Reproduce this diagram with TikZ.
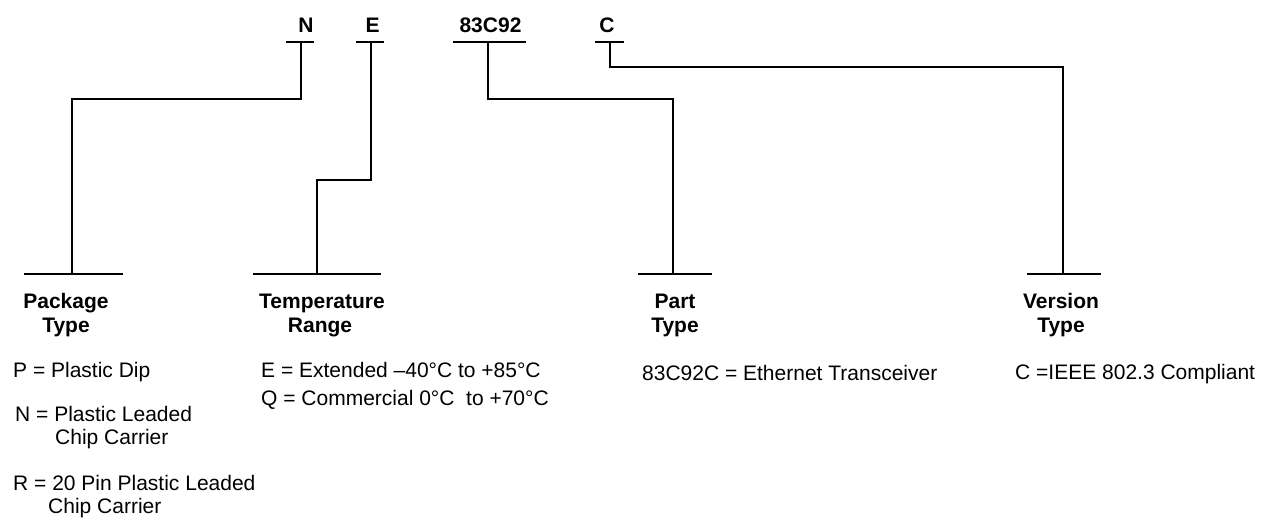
\documentclass[tikz,border=0pt]{standalone}
\usepackage{fontspec}
\setmainfont{Liberation Sans}
\begin{document}
\begin{tikzpicture}[x=1pt,y=-1pt,
  code/.style={font=\fontsize{21}{24}\selectfont\bfseries, anchor=base, inner sep=0pt},
  head/.style={font=\fontsize{21}{24}\selectfont\bfseries, anchor=base, inner sep=0pt},
  desc/.style={font=\fontsize{21}{24}\selectfont, anchor=base west, inner sep=0pt},
  bar/.style={line width=2pt},
  conn/.style={line width=2pt}]
\useasboundingbox (0,0) rectangle (1270,519);

% top code letters
\node[code] (cN) at (306,33) {N};
\node[code] (cE) at (372.5,33) {E};
\node[code] (cP) at (490.5,33) {83C92};
\node[code] (cC) at (607,33) {C};

% top bars
\coordinate (tNl) at (286,42); \coordinate (tNr) at (314,42); \coordinate (tN) at (301,42);
\coordinate (tEl) at (356,42); \coordinate (tEr) at (384,42); \coordinate (tE) at (371,42);
\coordinate (tPl) at (453,42); \coordinate (tPr) at (526,42); \coordinate (tP) at (488,42);
\coordinate (tCl) at (595,42); \coordinate (tCr) at (624,42); \coordinate (tC) at (610,42);
\draw[bar] (tNl) -- (tNr);
\draw[bar] (tEl) -- (tEr);
\draw[bar] (tPl) -- (tPr);
\draw[bar] (tCl) -- (tCr);

% bottom bars
\coordinate (bKl) at (24,274);   \coordinate (bKr) at (123,274);  \coordinate (bK) at (72,274);
\coordinate (bTl) at (253,274);  \coordinate (bTr) at (381,274);  \coordinate (bT) at (317,274);
\coordinate (bAl) at (638,274);  \coordinate (bAr) at (712,274);  \coordinate (bA) at (673,274);
\coordinate (bVl) at (1027,274); \coordinate (bVr) at (1101,274); \coordinate (bV) at (1063,274);
\draw[bar] (bKl) -- (bKr);
\draw[bar] (bTl) -- (bTr);
\draw[bar] (bAl) -- (bAr);
\draw[bar] (bVl) -- (bVr);

% connectors
\draw[conn] (tN) -- ++(0,57) -| (bK);
\draw[conn] (tE) -- ++(0,138) -| (bT);
\draw[conn] (tP) -- ++(0,57) -| (bA);
\draw[conn] (tC) -- ++(0,25) -| (bV);

% headings
\node[head] (hK1) at (66,308) {Package};
\node[head] (hK2) at (66,332) {Type};
\node[head] (hT1) at (322,308) {Temperature};
\node[head] (hT2) at (320,332) {Range};
\node[head] (hA1) at (675,308) {Part};
\node[head] (hA2) at (675,332) {Type};
\node[head] (hV1) at (1061,308) {Version};
\node[head] (hV2) at (1061,332) {Type};

% descriptions
\node[desc] (dP) at (13,377) {P = Plastic Dip};
\node[desc] (dN1) at (15,421) {N = Plastic Leaded};
\node[desc] (dN2) at (55,444) {Chip Carrier};
\node[desc] (dR1) at (13,490) {R = 20 Pin Plastic Leaded};
\node[desc] (dR2) at (48,513) {Chip Carrier};
\node[desc] (dE) at (261,377) {E = Extended –40°C to +85°C};
\node[desc] (dQ) at (261,405) {Q = Commercial 0°C\ \ to +70°C};
\node[desc] (dA) at (642,380) {83C92C = Ethernet Transceiver};
\node[desc] (dV) at (1015,379) {C =IEEE 802.3 Compliant};
\end{tikzpicture}
\end{document}
